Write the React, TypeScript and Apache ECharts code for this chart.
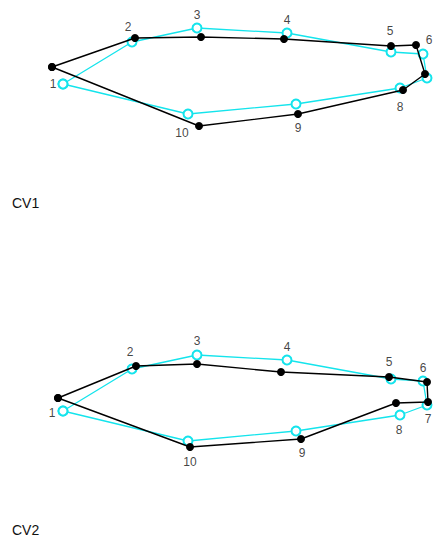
import React, { useEffect, useRef } from "react";
import * as echarts from "echarts";

// Landmark labels
const landmarks = ["1", "2", "3", "4", "5", "6", "7", "8", "9", "10"];

// Mean (consensus) shape, shared by both panels: x, y
const meanX = [-0.885, -0.54, -0.215, 0.235, 0.755, 0.915, 0.935, 0.8, 0.28, -0.26];
const meanY = [-0.07, 0.14, 0.21, 0.185, 0.09, 0.08, -0.04, -0.09, -0.17, -0.22];

// CV1 deformed shape
const cv1X = [-0.94, -0.525, -0.195, 0.22, 0.755, 0.88, 0.925, 0.815, 0.29, -0.205];
const cv1Y = [0.015, 0.16, 0.165, 0.155, 0.12, 0.125, -0.02, -0.1, -0.22, -0.28];

// CV2 deformed shape
const cv2X = [-0.91, -0.52, -0.215, 0.205, 0.745, 0.935, 0.94, 0.78, 0.305, -0.25];
const cv2Y = [-0.005, 0.155, 0.165, 0.125, 0.1, 0.075, -0.025, -0.03, -0.21, -0.25];

const panelTitles = ["CV1", "CV2"];

// pixel offsets of landmark numbers from the mean-shape points (style)
const labelOffsets1 = [[-10, 0], [-4, -15], [0, -13], [0, -13], [-1, -21], [6, -14], [13, 0], [0, 19], [2, 24], [-6, 19]];
const labelOffsets2 = [[-11, 2], [-2, -17], [0, -14], [0, -13], [-2, -17], [0, -13], [1, 14], [-1, 15], [6, 22], [2, 21]];

const CYAN = "#14e4ec";
const FONT = "Liberation Sans, Arial, sans-serif";

function closed(xs: number[], ys: number[]) {
  const pts = xs.map((x, i) => [x, ys[i]]);
  pts.push(pts[0]);
  return pts;
}

export default function App() {
  const ref = useRef<HTMLDivElement>(null);
  useEffect(() => {
    if (!ref.current) return;
    const chart = echarts.init(ref.current, undefined, { renderer: "svg" });
    const grids = [
      { left: 0, width: 436, top: 0, height: 140 },
      { left: 0, width: 436, top: 327, height: 140 },
    ];
    const axisBase = { type: "value" as const, show: false, splitLine: { show: false } };
    const shapes = [
      [cv1X, cv1Y, labelOffsets1],
      [cv2X, cv2Y, labelOffsets2],
    ] as const;
    const series: any[] = [];
    shapes.forEach(([xs, ys, offs], gi) => {
      series.push({
        type: "line",
        xAxisIndex: gi,
        yAxisIndex: gi,
        data: closed(meanX, meanY),
        symbol: "emptyCircle",
        symbolSize: 9,
        showAllSymbol: true,
        lineStyle: { color: CYAN, width: 1.3 },
        itemStyle: { color: CYAN, borderColor: CYAN, borderWidth: 1 },
        z: 2,
      });
      series.push({
        type: "line",
        xAxisIndex: gi,
        yAxisIndex: gi,
        data: closed(xs as number[], ys as number[]),
        symbol: "circle",
        symbolSize: 8,
        showAllSymbol: true,
        lineStyle: { color: "#000", width: 1.4 },
        itemStyle: { color: "#000" },
        z: 3,
      });
      series.push({
        type: "scatter",
        xAxisIndex: gi,
        yAxisIndex: gi,
        symbolSize: 1,
        itemStyle: { color: "rgba(0,0,0,0)" },
        data: meanX.map((x, i) => ({
          value: [x, meanY[i]],
          name: landmarks[i],
          label: { offset: (offs as number[][])[i] },
        })),
        label: {
          show: true,
          position: "inside",
          formatter: (p: any) => p.name,
          color: "#111",
          textBorderWidth: 0,
          textBorderColor: "transparent",
          fontSize: 12,
          fontFamily: FONT,
        },
        emphasis: { disabled: true },
        z: 4,
      });
    });
    chart.setOption({
      animation: false,
      backgroundColor: "#fff",
      grid: grids,
      xAxis: grids.map((_, i) => ({ ...axisBase, gridIndex: i, min: -1.2, max: 0.98 })),
      yAxis: grids.map((_, i) => ({ ...axisBase, gridIndex: i, min: -0.35, max: 0.35 })),
      series,
      graphic: panelTitles.map((t, i) => ({
        type: "text",
        left: 12,
        top: i === 0 ? 196 : 523,
        style: { text: t, fontSize: 14, fontFamily: FONT, fill: "#111" },
      })),
    });
    return () => chart.dispose();
  }, []);
  return (
    <div
      ref={ref}
      style={{ position: "fixed", left: 0, top: 0, width: 436, height: 539 }}
    />
  );
}
